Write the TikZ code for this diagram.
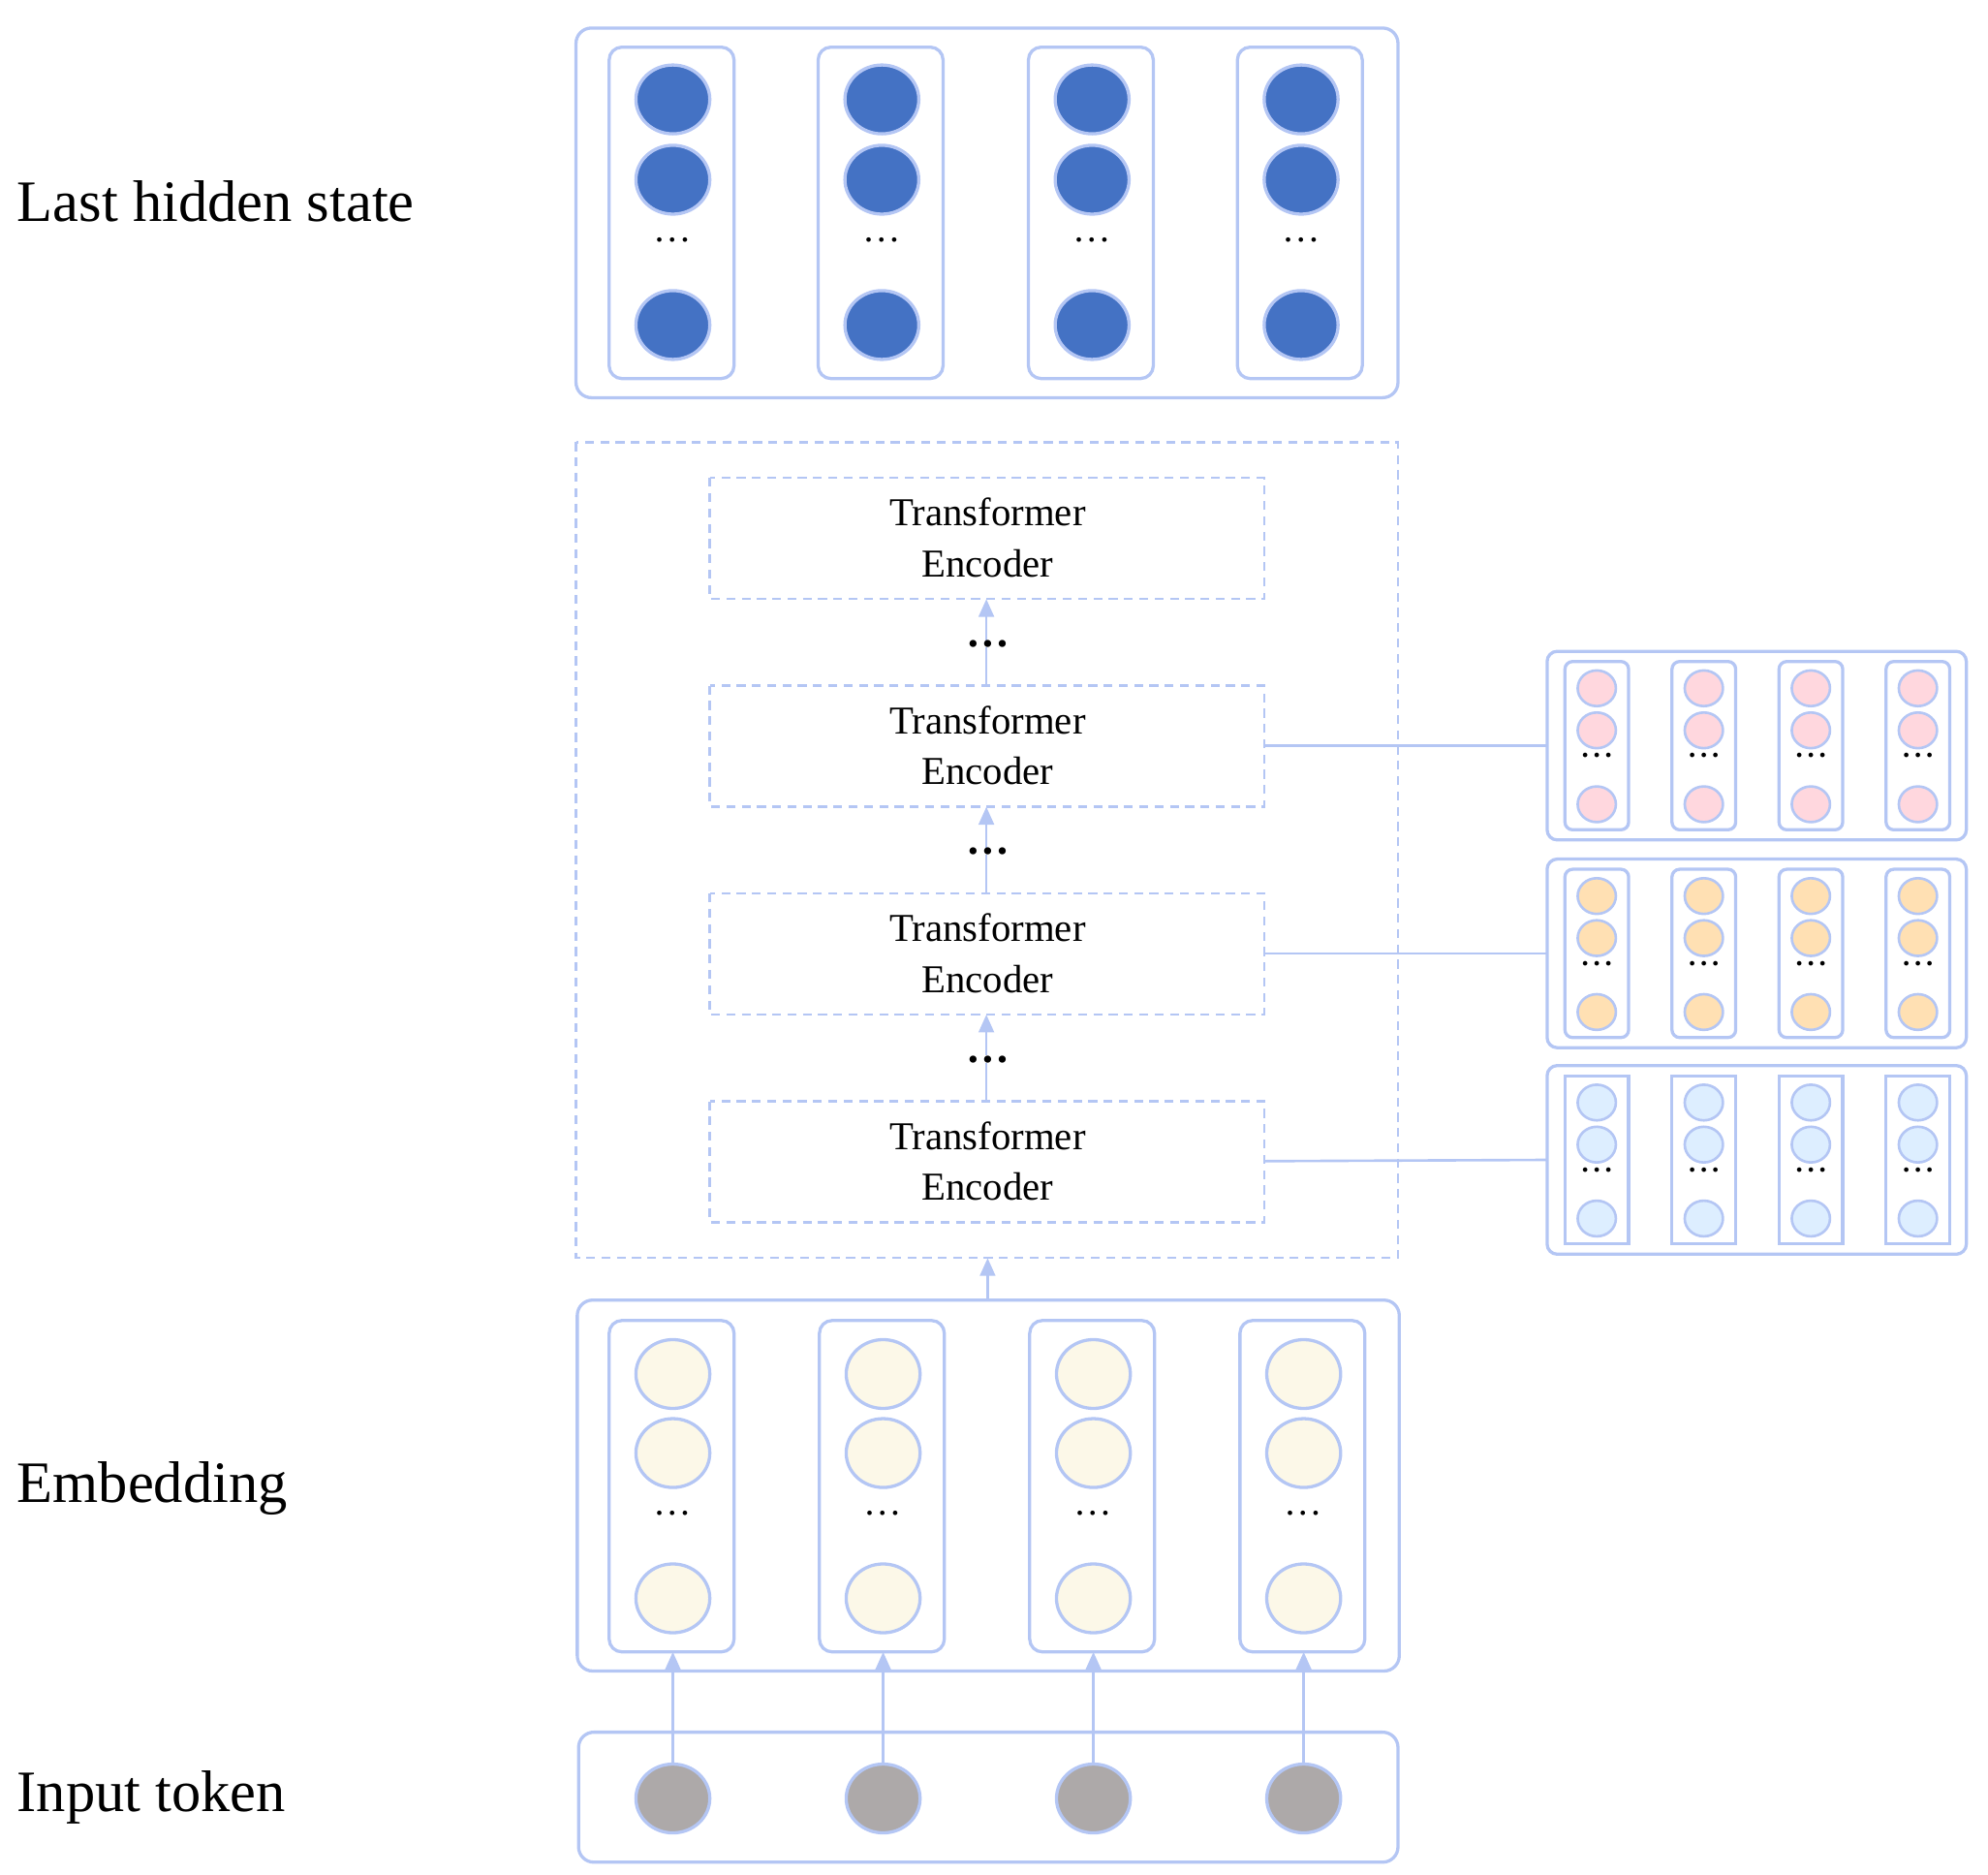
\documentclass[tikz,border=0pt]{standalone}
\usepackage{fontspec}
\setmainfont{Liberation Serif}
\usetikzlibrary{arrows.meta,shapes.geometric}
\definecolor{bd}{HTML}{B4C6F4}
\definecolor{dk}{HTML}{4472C4}
\definecolor{cr}{HTML}{FCF8E8}
\definecolor{gy}{HTML}{ADA9A9}
\definecolor{pk}{HTML}{FFD7DE}
\definecolor{og}{HTML}{FFE0B3}
\definecolor{lb}{HTML}{DDEEFF}
\begin{document}
\begin{tikzpicture}[x=1pt,y=-1pt,
  box/.style={draw=bd,line width=2.5pt,rounded corners=12pt},
  col/.style={draw=bd,line width=2.5pt,rounded corners=10pt},
  dbox/.style={draw=bd,line width=1.8pt,dash pattern=on 7pt off 5pt},
  bigc/.style={ellipse,draw=bd,line width=2.5pt,minimum width=58pt,minimum height=54pt,inner sep=0pt},
  smc/.style={ellipse,draw=bd,line width=2pt,minimum width=30pt,minimum height=28pt,inner sep=0pt},
  lbl/.style={anchor=west,font=\fontsize{46}{50}\selectfont},
  enc/.style={font=\fontsize{31}{40}\selectfont,align=center},
  conn/.style={draw=bd,line width=2pt},
  arr/.style={draw=bd,line width=2pt,-{Triangle[length=14pt,width=12pt]}}]
\useasboundingbox (0,0) rectangle (1560,1471);
% labels
\node[lbl] (l1) at (10,158) {Last hidden state};
\node[lbl] (l2) at (10,1168) {Embedding};
\node[lbl] (l3) at (10,1410) {Input token};
% top box
\draw[box] (452,22) rectangle (1097,312);
\foreach \i/\x in {1/528,2/692,3/857,4/1021}{
  \draw[col] (\x-50,37) rectangle (\x+48,297);
  \node[bigc,fill=dk] (h\i a) at (\x,78) {};
  \node[bigc,fill=dk] (h\i b) at (\x,141) {};
  \node[font=\fontsize{30}{30}\selectfont] (h\i d) at (\x,188) {\dots};
  \node[bigc,fill=dk] (h\i c) at (\x,255) {};
}
% encoder stack
\draw[dbox] (452,347) rectangle (1097,987);
\foreach \n/\y in {4/375,3/538,2/701,1/864}{
  \draw[dbox] (557,\y) rectangle (992,\y+95);
  \node[enc] (e\n) at (775,\y+47) {Transformer\\Encoder};
  \coordinate (et\n) at (774,\y);
  \coordinate (eb\n) at (774,\y+95);
  \coordinate (er\n) at (992,\y+47);
}
\foreach \a/\b/\y in {1/2/839,2/3/676,3/4/513}{
  \draw[arr] (et\a) -- (eb\b);
  \node[font=\bfseries\fontsize{34}{34}\selectfont,fill=white,inner sep=0pt] (dd\a) at (775,\y-8) {\dots};
}
\coordinate (stb) at (775,987);
\coordinate (emt) at (775,1020);
\draw[arr] (emt) -- (stb);
% embedding
\draw[box] (453,1020) rectangle (1098,1311);
\draw[box] (454,1359) rectangle (1097,1461);
\foreach \i/\x in {1/528,2/693,3/858,4/1023}{
  \draw[col] (\x-50,1036) rectangle (\x+48,1296);
  \coordinate (cb\i) at (\x,1296);
  \node[bigc,fill=cr] (m\i a) at (\x,1078) {};
  \node[bigc,fill=cr] (m\i b) at (\x,1140) {};
  \node[font=\fontsize{30}{30}\selectfont] (m\i d) at (\x,1187) {\dots};
  \node[bigc,fill=cr] (m\i c) at (\x,1254) {};
  \node[bigc,fill=gy] (t\i) at (\x,1411) {};
  \draw[arr] (t\i) -- (cb\i);
}
% side panels
\foreach \p/\y/\c/\rc in {1/511/pk/6,2/674/og/6,3/836/lb/0}{
  \draw[box,rounded corners=8pt] (1214,\y) rectangle (1543,\y+148);
  \coordinate (pl\p) at (1214,\y+74);
  \foreach \j/\x in {1/1253,2/1337,3/1421,4/1505}{
    \draw[col,rounded corners=\rc pt] (\x-25,\y+8) rectangle (\x+25,\y+140);
    \node[smc,fill=\c] (s\p\j a) at (\x,\y+29) {};
    \node[smc,fill=\c] (s\p\j b) at (\x,\y+62) {};
    \node[font=\bfseries\fontsize{22}{22}\selectfont] (s\p\j d) at (\x,\y+82) {.\,.\,.};
    \node[smc,fill=\c] (s\p\j c) at (\x,\y+120) {};
  }
}
\draw[conn] (er3) -- (pl1);
\draw[conn] (er2) -- (pl2);
\draw[conn] (er1) -- (pl3);
\end{tikzpicture}
\end{document}
